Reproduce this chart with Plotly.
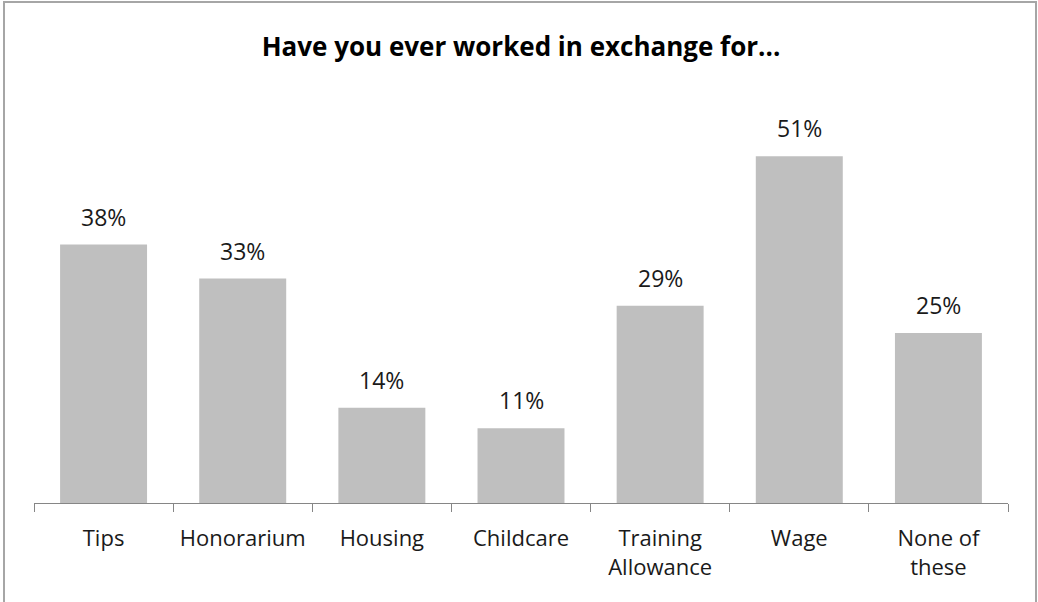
import plotly.graph_objects as go

# Survey responses: share of respondents who have worked in exchange for each item
categories = ["Tips", "Honorarium", "Housing", "Childcare",
              "Training<br>Allowance", "Wage", "None of<br>these"]
percentages = [38, 33, 14, 11, 29, 51, 25]

W, H = 1038, 602
FONT = "Open Sans"
TEXT_COLOR = "#1a1a1a"
BAR_COLOR = "#bfbfbf"
AXIS_COLOR = "#868686"

fig = go.Figure(
    go.Bar(
        x=categories,
        y=percentages,
        marker=dict(color=BAR_COLOR, line=dict(width=0)),
        hoverinfo="skip",
    )
)

# Value labels sitting above each bar
for cat, val in zip(categories, percentages):
    fig.add_annotation(
        x=cat, y=val, text=f"{val}%", showarrow=False,
        xref="x", yref="y", yanchor="middle", yshift=28,
        font=dict(family=FONT, size=23, color=TEXT_COLOR),
    )

# Plot area in pixels
left, right, top, bottom = 34, 30, 95, 99
pw = W - left - right
ph = H - top - bottom

def px_to_paper_x(px):
    return (px - left) / pw

def px_to_paper_y(py):
    return (H - bottom - py) / ph

# Outer chart frame
fig.add_shape(
    type="rect", xref="paper", yref="paper",
    x0=px_to_paper_x(4), x1=px_to_paper_x(1036),
    y0=px_to_paper_y(604), y1=px_to_paper_y(2),
    line=dict(color="#a6a6a6", width=2), fillcolor="rgba(0,0,0,0)",
    layer="above",
)

fig.update_layout(
    width=W, height=H,
    margin=dict(l=left, r=right, t=top, b=bottom, pad=0),
    paper_bgcolor="white", plot_bgcolor="white",
    showlegend=False,
    bargap=0.375,
    title=dict(
        text="<b>Have you ever worked in exchange for...</b>",
        x=0.5, xref="paper", xanchor="center",
        y=1 - 47 / H, yref="container", yanchor="middle",
        font=dict(family=FONT, size=26, color="#000000"),
    ),
    font=dict(family=FONT, size=22, color=TEXT_COLOR),
    xaxis=dict(
        type="category",
        showline=True, linecolor=AXIS_COLOR, linewidth=1,
        ticks="outside", tickson="boundaries", ticklen=8,
        tickcolor=AXIS_COLOR, tickwidth=1,
        ticklabelstandoff=16,
        showgrid=False, zeroline=False,
        tickfont=dict(family=FONT, size=22, color=TEXT_COLOR),
        fixedrange=True,
    ),
    yaxis=dict(
        range=[0, 60], visible=False, showgrid=False, zeroline=False,
        fixedrange=True,
    ),
)

fig.write_html("out.html")
